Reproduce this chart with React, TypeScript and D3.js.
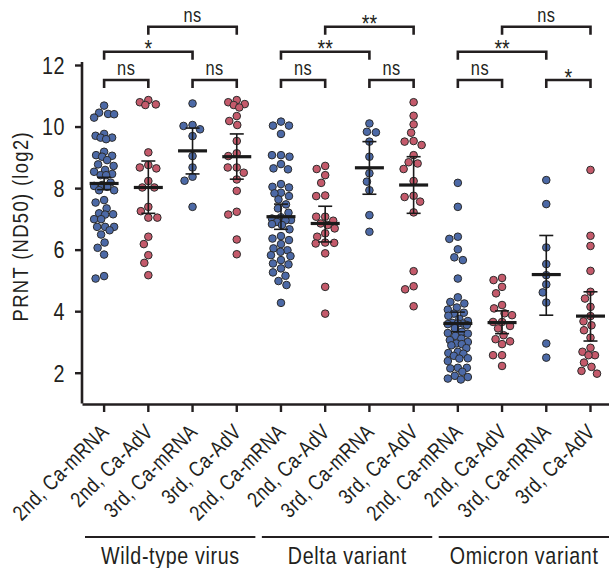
import React, { useEffect, useRef } from 'react';
import * as d3 from 'd3';

// x categories (repeated for each virus)
const categories = [
  '2nd, Ca-mRNA', '2nd, Ca-AdV', '3rd, Ca-mRNA', '3rd, Ca-AdV',
  '2nd, Ca-mRNA', '2nd, Ca-AdV', '3rd, Ca-mRNA', '3rd, Ca-AdV',
  '2nd, Ca-mRNA', '2nd, Ca-AdV', '3rd, Ca-mRNA', '3rd, Ca-AdV',
];
const virusGroups = ['Wild-type virus', 'Delta variant', 'Omicron variant'];
const yTicks = [2, 4, 6, 8, 10, 12];

// PRNT ND50 (log2)
const wtMrna2 = [10.68, 10.45, 10.41, 10.4, 10.29, 9.76, 9.7, 9.64, 9.64, 9.59, 9.18, 9.07, 9.05, 9.02, 8.91, 8.77, 8.72,
  8.59, 8.53, 8.46, 8.42, 8.42, 8.18, 8.1, 8.07, 8.04, 7.93, 7.93, 7.61, 7.53, 7.34, 7.18, 7.15, 7.14, 6.99, 6.99,
  6.74, 6.74, 6.74, 6.63, 6.49, 6.23, 6.06, 5.84, 5.14, 5.06];
const wtAdv2 = [10.86, 10.79, 10.72, 10.7, 9.16, 8.75, 8.67, 8.64, 8.23, 8.02, 8.02, 7.39, 7.25, 7.04, 7.04, 6.42, 6.18,
  5.82, 5.57, 5.17];
const wtMrna3 = [10.75, 10.05, 10.02, 9.91, 9.69, 9.04, 8.67, 8.37, 8.24, 7.39];
const wtAdv3 = [10.86, 10.79, 10.73, 10.7, 10.62, 10.34, 10.18, 10.05, 9.53, 9.13, 9.04, 8.67, 8.67, 8.5, 8.28, 7.91,
  7.23, 7.14, 6.33, 5.85];
const deltaMrna2 = [10.16, 10.03, 10.03, 9.76, 9.07, 9.07, 9.02, 8.78, 8.64, 8.61, 8.13, 8.04, 8.02, 7.85, 7.83, 7.74,
  7.63, 7.47, 7.34, 7.2, 7.05, 7.01, 6.96, 6.95, 6.9, 6.83, 6.8, 6.66, 6.44, 6.36, 6.31, 6.18, 6.04, 5.98, 5.93, 5.82,
  5.79, 5.66, 5.55, 5.52, 5.39, 5.26, 5.15, 4.98, 4.85, 4.27];
const deltaAdv2 = [8.72, 8.62, 8.42, 8.17, 7.76, 7.74, 7.07, 7.07, 6.94, 6.85, 6.8, 6.69, 6.53, 6.42, 6.23, 6.22, 6.2,
  5.88, 4.79, 3.92];
const deltaMrna3 = [10.1, 9.83, 9.81, 9.51, 9.02, 8.48, 8.21, 7.93, 7.12, 6.58];
const deltaAdv3 = [10.79, 10.35, 10.07, 9.8, 9.53, 9.51, 9.4, 9.07, 8.84, 8.8, 8.62, 8.23, 7.75, 7.71, 7.56, 7.21,
  5.3, 4.81, 4.71, 4.16];
const omiMrna2 = [8.17, 7.39, 6.42, 6.35, 6.01, 5.75, 5.66, 5.06, 4.45, 4.3, 4.25, 4.12, 4.05, 3.95, 3.92, 3.85, 3.75,
  3.68, 3.62, 3.6, 3.6, 3.58, 3.55, 3.45, 3.33, 3.29, 3.27, 3.2, 3.11, 3.06, 3.0, 2.95, 2.93, 2.89, 2.8, 2.68, 2.64,
  2.62, 2.55, 2.47, 2.46, 2.38, 2.16, 2.16, 2.14, 2.03, 1.9, 1.86, 1.81, 1.78];
const omiAdv2 = [5.08, 5.01, 4.79, 4.58, 4.2, 4.09, 3.93, 3.87, 3.65, 3.65, 3.52, 3.44, 3.22, 3.09, 3.02, 2.93, 2.57,
  2.57, 2.22];
const omiMrna3 = [8.26, 7.48, 6.07, 5.53, 5.17, 4.87, 4.61, 4.28, 2.95, 2.49];
const omiAdv3 = [8.59, 6.45, 6.12, 5.31, 4.63, 4.41, 4.14, 3.84, 3.67, 3.54, 3.38, 3.14, 2.81, 2.68, 2.57, 2.57, 2.33,
  2.19, 2.06, 1.97];

const series = [wtMrna2, wtAdv2, wtMrna3, wtAdv3, deltaMrna2, deltaAdv2, deltaMrna3, deltaAdv3,
  omiMrna2, omiAdv2, omiMrna3, omiAdv3];

// centre line and error bar ends
const centers = [8.15, 8.02, 9.21, 9.02, 7.07, 6.85, 8.66, 8.1, 3.6, 3.63, 5.19, 3.84];
const errLow = [7.95, 7.18, 8.46, 8.29, 6.66, 6.25, 7.8, 7.18, 3.33, 3.27, 3.87, 3.03];
const errHigh = [8.35, 8.88, 9.95, 9.76, 7.48, 7.41, 9.51, 9.02, 3.97, 4.01, 6.46, 4.63];

// significance brackets: [from, to, row, label]
const brackets: [number, number, number, string][] = [
  [0, 1, 0, 'ns'], [2, 3, 0, 'ns'], [0, 2, 1, '*'], [1, 3, 2, 'ns'],
  [4, 5, 0, 'ns'], [6, 7, 0, 'ns'], [4, 6, 1, '**'], [5, 7, 2, '**'],
  [8, 9, 0, 'ns'], [10, 11, 0, '*'], [8, 10, 1, '**'], [9, 11, 2, 'ns'],
];

// no condensed face installed -> squeeze Liberation Sans horizontally
const FONT = '"Liberation Sans", Arial, sans-serif';
const SQ = 0.82;
const BLUE = '#4c69a6';
const RED = '#c45a6b';
const INK = '#231f20';

// beeswarm kept inside +-maxOff; overlaps allowed when the column is full
function swarm(vals: number[], cx: number, y: (v: number) => number, dist: number, maxOff: number) {
  const placed: { x: number; y: number }[] = [];
  const sorted = [...vals].sort((a, b) => b - a);
  sorted.forEach(v => {
    const py = y(v);
    let bestX = cx, bestD = -1;
    for (let k = 0; ; k++) {
      const off = (k % 2 === 0 ? 1 : -1) * Math.ceil(k / 2) * 0.5;
      if (Math.abs(off) > maxOff) break;
      const px = cx + off;
      let md = Infinity;
      placed.forEach(p => { md = Math.min(md, Math.hypot(p.x - px, p.y - py)); });
      if (md >= dist) { bestX = px; bestD = md; break; }
      if (md > bestD + 0.3) { bestD = md; bestX = px; }
    }
    placed.push({ x: bestX, y: py });
  });
  return placed;
}

export default function App() {
  const ref = useRef<SVGSVGElement>(null);

  useEffect(() => {
    const svg = d3.select(ref.current);
    svg.selectAll('*').remove();

    const x = d3.scaleBand<number>()
      .domain(categories.map((_, i) => i))
      .range([82, 612.6]);
    const y = d3.scaleLinear().domain([1, 12]).range([403.5, 65]);
    const cx = (i: number) => (x(i) as number) + x.bandwidth() / 2;

    // y axis
    const yAxis = svg.append('g')
      .attr('transform', 'translate(82,0)')
      .call(d3.axisLeft(y).tickValues(yTicks).tickSize(7).tickSizeOuter(0));
    yAxis.select('.domain').attr('stroke', INK).attr('stroke-width', 2.6).attr('d', `M0,${y(12) - 3}V${y(1)}`);
    yAxis.selectAll('.tick line').attr('stroke', INK).attr('stroke-width', 2.4);
    yAxis.selectAll('.tick text')
      .attr('font-family', FONT).attr('font-size', 23).attr('fill', INK)
      .attr('letter-spacing', 0.6)
      .attr('x', 0).attr('dy', '0.36em')
      .attr('transform', 'translate(-17,0) scale(0.86,1)');

    // x axis
    const xAxis = svg.append('g')
      .attr('transform', 'translate(0,404)')
      .call(d3.axisBottom(x).tickSize(8).tickSizeOuter(0).tickFormat(i => categories[i as number]));
    xAxis.select('.domain').attr('stroke', INK).attr('stroke-width', 2.6);
    xAxis.selectAll('.tick line').attr('stroke', INK).attr('stroke-width', 2.4);
    xAxis.selectAll('.tick text')
      .attr('font-family', FONT).attr('font-size', 21.5).attr('fill', INK)
      .attr('letter-spacing', 0.6)
      .attr('text-anchor', 'end')
      .attr('x', 0).attr('y', 0).attr('dy', 0)
      .attr('transform', `translate(6,29) rotate(-45) scale(${SQ},1)`);

    // y title
    svg.append('text')
      .attr('transform', `translate(28,${(y(1) + y(12)) / 2 - 8}) rotate(-90) scale(${SQ},1)`)
      .attr('text-anchor', 'middle')
      .attr('font-family', FONT).attr('font-size', 22.5).attr('letter-spacing', 1.6)
      .attr('fill', INK)
      .text('PRNT (ND50) (log2)');

    // virus group labels
    virusGroups.forEach((name, g) => {
      const x0 = x(g * 4) as number;
      const x1 = (x(g * 4 + 3) as number) + x.bandwidth();
      svg.append('line')
        .attr('x1', x0 + 3).attr('x2', x1 - 3.5)
        .attr('y1', 537).attr('y2', 537)
        .attr('stroke', INK).attr('stroke-width', 2.2);
      svg.append('text')
        .attr('transform', `translate(${(cx(g * 4) + cx(g * 4 + 3)) / 2},564) scale(${SQ},1)`)
        .attr('text-anchor', 'middle')
        .attr('font-family', FONT).attr('font-size', 24).attr('letter-spacing', 0.8)
        .attr('fill', INK)
        .text(name);
    });

    // dots
    series.forEach((vals, i) => {
      const pts = swarm(vals, cx(i), y, 8.6, 10);
      svg.append('g').selectAll('circle')
        .data(pts)
        .enter()
        .append('circle')
        .attr('cx', d => d.x)
        .attr('cy', d => d.y)
        .attr('r', 3.8)
        .attr('fill', i % 2 === 0 ? BLUE : RED)
        .attr('stroke', '#2b2b2b')
        .attr('stroke-width', 1);
    });

    // error bars + centre line
    const eb = svg.append('g');
    centers.forEach((c, i) => {
      const px = cx(i);
      eb.append('line')
        .attr('x1', px).attr('x2', px)
        .attr('y1', y(errHigh[i])).attr('y2', y(errLow[i]))
        .attr('stroke', '#1a1a1a').attr('stroke-width', 1.6);
      [errHigh[i], errLow[i]].forEach(v => {
        eb.append('line')
          .attr('x1', px - 7).attr('x2', px + 7)
          .attr('y1', y(v)).attr('y2', y(v))
          .attr('stroke', '#1a1a1a').attr('stroke-width', 1.6);
      });
      eb.append('line')
        .attr('x1', px - 14.5).attr('x2', px + 14.5)
        .attr('y1', y(c)).attr('y2', y(c))
        .attr('stroke', '#1a1a1a').attr('stroke-width', 3.2);
    });

    // significance brackets
    const rowY = [80, 51.7, 26.7];
    const br = svg.append('g');
    brackets.forEach(([a, b, row, label]) => {
      const ly = rowY[row];
      const xa = cx(a), xb = cx(b);
      const isNs = label === 'ns';
      br.append('path')
        .attr('d', `M${xa},${ly + 8}V${ly}H${xb}V${ly + 8}`)
        .attr('fill', 'none').attr('stroke', INK).attr('stroke-width', 2.6);
      br.append('text')
        .attr('transform', `translate(${(xa + xb) / 2},${isNs ? ly - 5 : ly + 5.5}) scale(${SQ},1)`)
        .attr('text-anchor', 'middle')
        .attr('font-family', FONT)
        .attr('font-size', isNs ? 20 : 24)
        .attr('letter-spacing', isNs ? 0.6 : 0)
        .attr('fill', INK)
        .text(label);
    });
  }, []);

  return (
    <svg ref={ref} width={609} height={568}
         style={{ position: 'absolute', left: 0, top: 0, background: '#fff' }} />
  );
}
